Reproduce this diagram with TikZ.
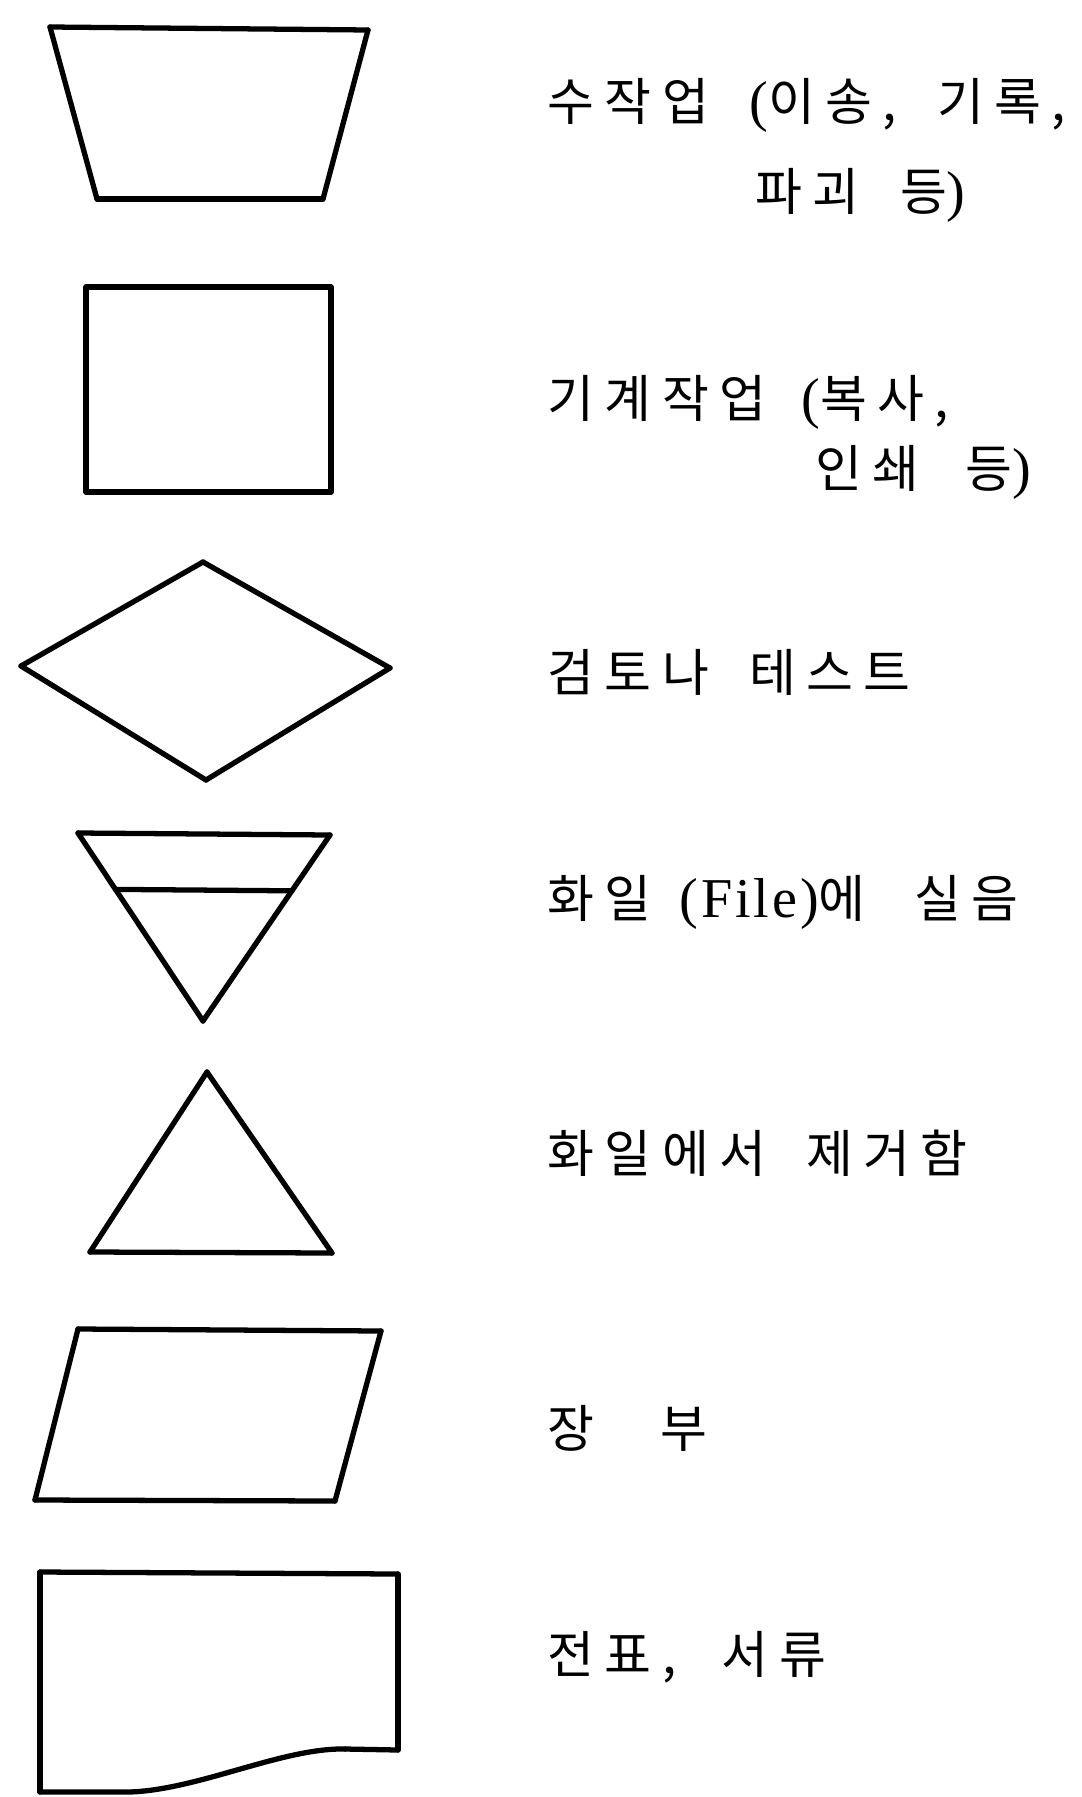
\documentclass[tikz,border=0pt]{standalone}
\usepackage{fontspec}
\setmainfont[LetterSpace=5]{Liberation Serif}
\newfontfamily\kr[LetterSpace=20]{Noto Sans CJK KR}
\newcommand{\pf}[1]{{\rmfamily\fontsize{32}{34}\selectfont #1}}
\usetikzlibrary{calc}
\tikzstyle{sym} = [line width=3pt, line cap=round, line join=round]
\tikzstyle{lbl} = [anchor=west, inner sep=0pt, font=\kr\fontsize{29}{34}\selectfont]

\begin{document}
\begin{tikzpicture}[x=1cm,y=1cm]
    \useasboundingbox (0,0) rectangle (21.62,-35.94);
    % corners of the symbols
    \coordinate (a1) at (1.0,-0.54);
    \coordinate (a2) at (7.36,-0.6);
    \coordinate (a3) at (6.46,-3.98);
    \coordinate (a4) at (1.94,-3.98);
    \coordinate (b1) at (1.72,-5.74);
    \coordinate (b2) at (6.62,-5.74);
    \coordinate (b3) at (6.62,-9.84);
    \coordinate (b4) at (1.72,-9.84);
    \coordinate (c1) at (0.42,-13.32);
    \coordinate (c2) at (4.06,-11.24);
    \coordinate (c3) at (7.8,-13.36);
    \coordinate (c4) at (4.12,-15.6);
    \coordinate (d1) at (1.56,-16.66);
    \coordinate (d2) at (6.6,-16.7);
    \coordinate (d3) at (4.06,-20.42);
    \coordinate (d4) at ($(d1)!0.3!(d3)$);
    \coordinate (d5) at ($(d2)!0.3!(d3)$);
    \coordinate (e1) at (4.14,-21.44);
    \coordinate (e2) at (6.64,-25.06);
    \coordinate (e3) at (1.8,-25.04);
    \coordinate (f1) at (1.56,-26.58);
    \coordinate (f2) at (7.62,-26.62);
    \coordinate (f3) at (6.7,-30.02);
    \coordinate (f4) at (0.7,-30.0);
    \coordinate (g1) at (0.8,-31.44);
    \coordinate (g2) at (7.96,-31.48);
    \coordinate (g3) at (7.96,-35.0);
    \coordinate (g4) at (6.9,-34.98);
    \coordinate (g5) at (0.8,-35.84);
    \foreach \from/\to in {a1/a2,a2/a3,a3/a4,a4/a1,
    b1/b2,b2/b3,b3/b4,b4/b1,
    c1/c2,c2/c3,c3/c4,c4/c1,
    d1/d2,d2/d3,d3/d1,d4/d5,
    e1/e2,e2/e3,e3/e1,
    f1/f2,f2/f3,f3/f4,f4/f1,
    g1/g2,g2/g3,g3/g4,g5/g1}
    \draw[sym] (\from) -- (\to);
    \draw[sym] (g4) .. controls (5.6,-34.95) and (3.8,-35.88) .. (2.4,-35.84) -- (g5);
    % labels
    \node[lbl] (l1) at (10.95,-2.1) {수작업\hspace{0.8em}\pf{(}이송,\hspace{0.8em}기록,};
    \node[lbl] (l1b) at (15.1,-3.9) {파괴\hspace{0.8em}등\pf{)}};
    \node[lbl] (l2) at (10.95,-8.05) {기계작업\hspace{0.7em}\pf{(}복사,};
    \node[lbl] (l2b) at (16.3,-9.45) {인쇄\hspace{0.9em}등\pf{)}};
    \node[lbl] (l3) at (10.95,-13.45) {검토나\hspace{0.8em}테스트};
    \node[lbl] (l4) at (10.95,-18.04) {화일\hspace{0.55em}{\addfontfeature{LetterSpace=10}\pf{(File)}}에\hspace{0.95em}실음};
    \node[lbl] (l5) at (10.95,-23.06) {화일에서\hspace{0.8em}제거함};
    \node[lbl] (l6) at (10.95,-28.56) {장\hspace{1.3em}부};
    \node[lbl] (l7) at (10.95,-33.14) {전표,\hspace{0.9em}서류};
\end{tikzpicture}
\end{document}
